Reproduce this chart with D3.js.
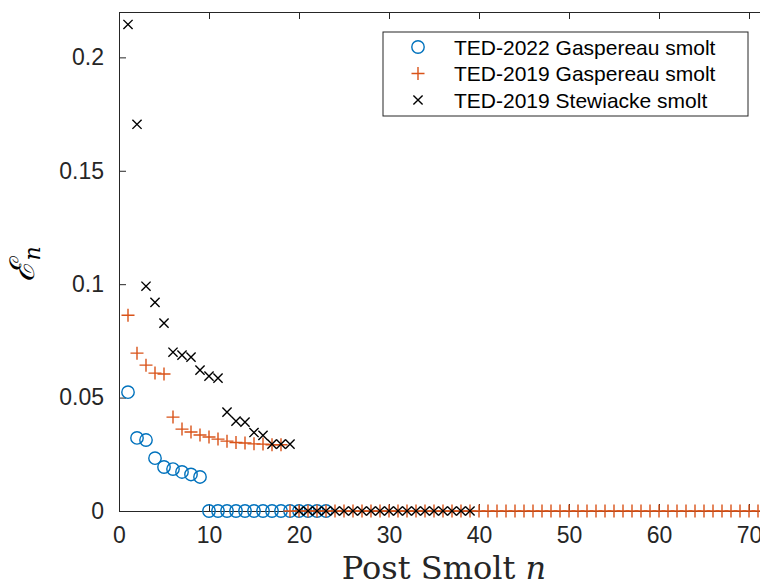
<!DOCTYPE html>
<html>
<head>
<meta charset="utf-8">
<script src="https://cdn.jsdelivr.net/npm/d3@7"></script>
<style>
  html, body { margin: 0; padding: 0; background: #fff; overflow: hidden; }
  svg { display: block; }
</style>
</head>
<body>
<svg id="chart" width="760" height="586"></svg>
<script>
// values, index i -> post smolt n = i + 1
const ted2022Gaspereau = [
  0.0524, 0.0322, 0.0313, 0.0233, 0.0194, 0.0185, 0.0172, 0.0161, 0.0150,
  0, 0, 0, 0, 0, 0, 0, 0, 0, 0, 0, 0, 0, 0
];
const ted2019Gaspereau = [
  0.0863, 0.0696, 0.0643, 0.0608, 0.0604, 0.0414, 0.0361, 0.0348, 0.0335,
  0.0326, 0.0317, 0.0308, 0.0302, 0.0300, 0.0296, 0.0295, 0.0292, 0.0292,
  0, 0, 0, 0, 0, 0, 0, 0, 0, 0, 0, 0, 0, 0, 0, 0, 0, 0, 0, 0, 0, 0,
  0, 0, 0, 0, 0, 0, 0, 0, 0, 0, 0, 0, 0, 0, 0, 0, 0, 0, 0, 0, 0, 0,
  0, 0, 0, 0, 0, 0, 0, 0, 0, 0
];
const ted2019Stewiacke = [
  0.2145, 0.1705, 0.0991, 0.0920, 0.0828, 0.0700, 0.0687, 0.0678, 0.0621,
  0.0595, 0.0586, 0.0436, 0.0396, 0.0392, 0.0346, 0.0333, 0.0295, 0.0295,
  0.0295,
  0, 0, 0, 0, 0, 0, 0, 0, 0, 0, 0, 0, 0, 0, 0, 0, 0, 0, 0, 0
];
const seriesNames = ["TED-2022 Gaspereau smolt", "TED-2019 Gaspereau smolt", "TED-2019 Stewiacke smolt"];
const seriesColors = ["#0072BD", "#D95319", "#000000"];
const xTicks = [0, 10, 20, 30, 40, 50, 60, 70];
const yTicks = [0, 0.05, 0.1, 0.15, 0.2];

const svg = d3.select("#chart");
const ink = "#262626";
const plotLeft = 119, plotTop = 12, plotBottom = 511, plotRight = 839;

const x = d3.scaleLinear().domain([0, 80]).range([plotLeft, plotRight]);
const y = d3.scaleLinear().domain([0, 0.22]).range([plotBottom, plotTop]);

// axes box (left, bottom, top; right edge falls outside the window)
const xAxis = d3.axisBottom(x).tickValues(xTicks).tickSizeInner(-7).tickSizeOuter(0).tickPadding(16);
const yAxis = d3.axisLeft(y).tickValues(yTicks).tickSizeInner(-7).tickSizeOuter(0).tickPadding(15)
  .tickFormat(d => d === 0 ? "0" : String(d));
const xTop = d3.axisTop(x).tickValues(xTicks).tickSizeInner(-7).tickSizeOuter(0).tickFormat("");

const gx = svg.append("g").attr("transform", `translate(0,${plotBottom})`).call(xAxis);
const gy = svg.append("g").attr("transform", `translate(${plotLeft},0)`).call(yAxis);
const gt = svg.append("g").attr("transform", `translate(0,${plotTop})`).call(xTop);

[gx, gy, gt].forEach(g => {
  g.selectAll("path").attr("stroke", ink).attr("stroke-width", 1);
  g.selectAll("line").attr("stroke", ink).attr("stroke-width", 1);
  g.selectAll("text")
    .attr("fill", ink)
    .style("font-family", "Liberation Sans, Arial, sans-serif")
    .style("font-size", "23px");
});
gx.selectAll("text").attr("dy", "0.71em");

// markers
const plot = svg.append("g");

const drawSeries = (values, kind, color) => {
  const pts = values.map((v, i) => ({ n: i + 1, v: v }));
  const g = plot.append("g");
  if (kind === "circle") {
    g.selectAll("circle").data(pts).join("circle")
      .attr("cx", d => x(d.n)).attr("cy", d => y(d.v)).attr("r", 6.2)
      .attr("fill", "none").attr("stroke", color).attr("stroke-width", 1.4);
  } else {
    const s = kind === "plus" ? 6.5 : 4.6;
    const path = kind === "plus"
      ? `M${-s},0H${s}M0,${-s}V${s}`
      : `M${-s},${-s}L${s},${s}M${-s},${s}L${s},${-s}`;
    g.selectAll("path").data(pts).join("path")
      .attr("transform", d => `translate(${x(d.n)},${y(d.v)})`)
      .attr("d", path)
      .attr("fill", "none").attr("stroke", color).attr("stroke-width", 1.4);
  }
};

drawSeries(ted2022Gaspereau, "circle", seriesColors[0]);
drawSeries(ted2019Gaspereau, "plus", seriesColors[1]);
drawSeries(ted2019Stewiacke, "cross", seriesColors[2]);

// legend
const legend = svg.append("g").attr("transform", "translate(383,32)");
legend.append("rect").attr("width", 365).attr("height", 84)
  .attr("fill", "#fff").attr("stroke", ink).attr("stroke-width", 1);
const kinds = ["circle", "plus", "cross"];
seriesNames.forEach((name, i) => {
  const cy = 15 + i * 26.5;
  const item = legend.append("g").attr("transform", `translate(35,${cy})`);
  if (kinds[i] === "circle") {
    item.append("circle").attr("r", 6.2).attr("fill", "none")
      .attr("stroke", seriesColors[i]).attr("stroke-width", 1.4);
  } else if (kinds[i] === "plus") {
    item.append("path").attr("d", "M-6.5,0H6.5M0,-6.5V6.5")
      .attr("stroke", seriesColors[i]).attr("stroke-width", 1.4);
  } else {
    item.append("path").attr("d", "M-4.6,-4.6L4.6,4.6M-4.6,4.6L4.6,-4.6")
      .attr("stroke", seriesColors[i]).attr("stroke-width", 1.4);
  }
  legend.append("text").attr("x", 71).attr("y", cy).attr("dy", "0.36em")
    .attr("fill", "#000")
    .style("font-family", "Liberation Sans, Arial, sans-serif")
    .style("font-size", "21px")
    .text(name);
});

// axis labels
const xl = svg.append("text").attr("x", 444).attr("y", 579)
  .attr("text-anchor", "middle").attr("fill", ink)
  .style("font-family", "DejaVu Serif, serif").style("font-size", "32px");
xl.append("tspan").text("Post Smolt ");
xl.append("tspan").style("font-style", "italic").text("n");

const yl = svg.append("text")
  .attr("transform", "translate(34,264) rotate(-90)")
  .attr("text-anchor", "middle").attr("fill", "#000")
  .style("font-family", "DejaVu Serif, serif").style("font-size", "34px");
yl.append("tspan").style("font-style", "italic").text("\u2130");
yl.append("tspan").attr("dy", 6).style("font-size", "22px").style("font-style", "italic").text("n");
</script>
</body>
</html>
